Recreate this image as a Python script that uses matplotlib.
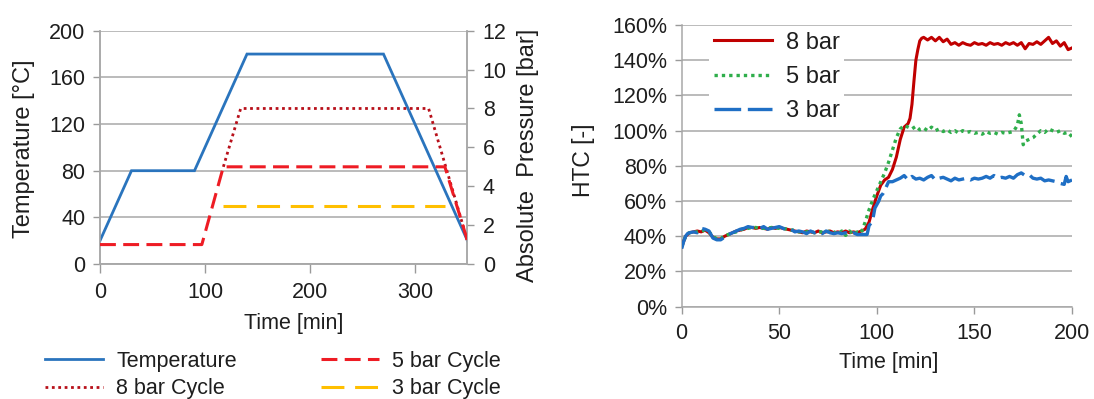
import matplotlib
matplotlib.use('Agg')
import matplotlib.pyplot as plt
from matplotlib.ticker import FuncFormatter

plt.rcParams['font.family'] = ['Liberation Sans', 'DejaVu Sans']
TXT = '#1e1e1e'
GRID = '#a8a8a8'
plt.rcParams['text.color'] = TXT
plt.rcParams['axes.labelcolor'] = TXT
plt.rcParams['xtick.color'] = '#9a9a9a'
plt.rcParams['ytick.color'] = '#9a9a9a'
plt.rcParams['xtick.labelcolor'] = TXT
plt.rcParams['ytick.labelcolor'] = TXT

# ---------------- left chart data ----------------
temp_t = [0, 30, 90, 140, 270, 350]
temp_v = [20, 80, 80, 180, 180, 20]
p8_t = [117.5, 134, 313, 350]
p8_v = [5, 8, 8, 1.2]
p5_t = [0, 97, 117.5, 328.5, 350]
p5_v = [1, 1, 5, 5, 1.2]
p3_t = [117.5, 329]
p3_v = [3, 3]
left_labels = ['Temperature', '8 bar Cycle', '5 bar Cycle', '3 bar Cycle']

# ---------------- right chart data ----------------
t8 = [0, 1, 2, 3, 4, 6, 8, 10, 12, 14, 16, 18, 20, 22, 24, 26, 28, 30, 32, 34,
      36, 38, 40, 42, 44, 46, 48, 50, 52, 54, 56, 58, 60, 62, 64, 66, 68, 70,
      72, 74, 76, 78, 80, 82, 84, 86, 88, 90, 92,
      94, 96, 98, 100, 102, 104, 106, 108, 110, 112, 114, 116,
      117, 118, 119, 120, 121, 122, 123, 124,
      126, 128, 130, 132, 134, 136, 138, 140, 142, 144, 146, 148, 150, 152,
      154, 156, 158, 160, 162, 164, 166, 168, 170, 172, 174, 176, 178, 180,
      182, 184, 186, 188, 190, 192, 194, 196, 198, 200]
v8 = [34, 37, 40, 41, 42, 42.5, 43, 42.5, 43.5, 42, 39.5, 38.5, 38.5, 40, 41,
      42, 43, 43.5, 44, 45, 45, 44.5, 45, 44.5, 44, 45, 44.5, 45, 44.5, 44,
      43.5, 43, 42.5, 42, 43, 42.5, 42, 43, 42, 42.5, 43, 42, 42.5, 42, 43, 42,
      42.5, 42, 43,
      44, 48, 56, 63, 69, 72, 73.5, 78, 85, 95, 102, 104,
      107, 115, 128, 140, 146, 151, 152.5, 153,
      151.5, 153, 151, 153, 150.5, 152, 149, 150, 148.5, 150, 149, 148.5, 150,
      149, 149.5, 148.5, 150, 149, 149.5, 148.5, 150, 149, 150, 148.5, 150,
      146.5, 149.5, 149, 150.5, 149, 151, 153, 149.5, 151, 148, 150, 146, 147]

t5 = [0, 1, 2, 3, 4, 6, 8, 10, 12, 14, 16, 18, 20, 22, 24, 26, 28, 30, 32, 34,
      36, 38, 40, 42, 44, 46, 48, 50, 52, 54, 56, 58, 60, 62, 64, 66, 68, 70,
      72, 74, 76, 78, 80, 82, 84, 86, 88, 90, 92,
      94, 96, 98, 100, 102, 104, 106, 108, 110, 112, 114, 116, 118, 120, 122,
      124, 126, 128, 130, 132, 134, 136, 138, 140, 142, 144, 146, 148, 150,
      152, 154, 156, 158, 160, 162, 164, 166, 168, 170,
      172, 173, 174, 175, 176,
      178, 180, 182, 184, 186, 188, 190, 192, 194, 196, 198, 200]
v5 = [34, 37, 40, 41.5, 42, 42.5, 42.5, 43, 43.5, 42.5, 40, 38.5, 38.5, 40.5,
      41, 42, 42.5, 43.5, 44.5, 44.5, 45, 45, 44.5, 44.5, 44.5, 45, 45, 44.5,
      44.5, 44, 43.5, 43.5, 42.5, 42.5, 42.5, 43, 42, 42.5, 42.5, 42.5, 43,
      42.5, 41, 43, 40.5, 43, 41, 42.5, 42,
      48, 55, 61, 66, 71, 76, 82, 89, 96, 101,
      103, 102, 101, 102.5, 100.5, 101.5, 100, 102, 100, 101,
      99.5, 100.5, 99, 100, 98.5, 100, 99, 99.5, 98.5, 99,
      98, 99.5, 98.5, 99, 98, 99, 98.5, 99, 99.5,
      103, 109, 104, 92, 94,
      95, 96, 98, 100, 99, 101, 100, 99, 100, 98.5, 99, 96.5]

t3 = [0, 1, 2, 3, 4, 6, 8, 10, 12, 14, 16, 18, 20, 22, 24, 26, 28, 30, 32, 34,
      36, 38, 40, 42, 44, 46, 48, 50, 52, 54, 56, 58, 60, 62, 64, 66, 68, 70,
      72, 74, 76, 78, 80, 82, 84, 86, 88, 90, 92,
      94, 95, 96, 97, 98, 99, 100, 101, 102, 103, 104,
      106, 108, 110, 112, 114, 116, 118, 120, 122, 124, 126, 128, 130, 132,
      134, 136, 138, 140, 142, 144, 146, 148, 150, 152, 154, 156, 158, 160,
      162, 164, 166, 168, 170, 172, 174, 176, 178, 180, 182, 184, 186, 188,
      190, 192, 194, 196,
      197, 198, 200]
v3 = [33, 37, 40, 41.5, 42, 42.5, 42, 44.5, 44, 43, 39, 38, 38, 39.5, 41,
      42, 43, 44, 44.5, 45.5, 45, 45, 44.5, 45.5, 44, 44.5, 45, 45.5, 44.5,
      43.5, 44, 42.5, 43, 42.5, 41.5, 43, 42, 42.5, 41.5, 43, 42, 41.5, 42,
      41.5, 42, 41, 42, 41, 41,
      41, 41, 46, 47.5, 50, 56, 58, 60, 63, 64, 66,
      71, 71, 72, 73, 74.5, 72, 74, 72.5, 73, 72,
      73.5, 74.5, 72, 73, 73.5, 72.5, 71.5, 73, 72, 72.5,
      73, 72, 73, 72.5, 73, 74, 73, 74.5, 73, 73.5,
      73, 74, 73, 75, 76, 74.5, 75, 73, 72.5, 73,
      71.5, 72, 71.5, 71, 70, 69.5,
      74, 71, 72]
right_labels = ['8 bar', '5 bar', '3 bar']

assert len(t8) == len(v8) and len(t5) == len(v5) and len(t3) == len(v3)

C_TEMP = '#2a74bd'
C_P8 = '#b8101a'
C_P5 = '#ee1c24'
C_P3 = '#ffbf00'
C_R8 = '#c00000'
C_R5 = '#2fae4b'
C_R3 = '#1f6fc5'

FS = 15.5
FS_Y = 17

fig = plt.figure(figsize=(10.94, 3.99), dpi=100)

# ---------------- left chart ----------------
ax = fig.add_axes([0.0914, 0.3383, 0.3359, 0.5847])
ax2 = ax.twinx()
l_t, = ax.plot(temp_t, temp_v, color=C_TEMP, lw=2.0, solid_joinstyle='miter', zorder=3)
l_8, = ax2.plot(p8_t, p8_v, color=C_P8, lw=2.0, linestyle=(0, (1, 1.3)), zorder=2)
l_5, = ax2.plot(p5_t, p5_v, color=C_P5, lw=2.2, linestyle=(0, (5.2, 2.4)), zorder=3)
l_3, = ax2.plot(p3_t, p3_v, color=C_P3, lw=2.2, linestyle=(0, (7.5, 3.5)), zorder=3)
ax.set_xlim(0, 350)
ax.set_ylim(0, 200)
ax2.set_ylim(0, 12)
ax.set_xticks([0, 100, 200, 300])
ax.set_yticks([0, 40, 80, 120, 160, 200])
ax2.set_yticks([0, 2, 4, 6, 8, 10, 12])
ax.grid(axis='y', color=GRID, lw=1.1)
ax.set_axisbelow(True)
ax.spines['top'].set_visible(False)
ax2.spines['top'].set_visible(False)
for a in (ax, ax2):
    for s in ['left', 'bottom', 'right']:
        a.spines[s].set_color(GRID)
        a.spines[s].set_linewidth(1.1)
ax.tick_params(axis='y', direction='out', length=5, width=1, pad=5.5, labelsize=FS)
ax.tick_params(axis='x', direction='out', length=6.5, width=1, pad=6.5, labelsize=FS)
ax2.tick_params(axis='y', direction='out', length=5, width=1, pad=6, labelsize=FS)
ax.set_xlabel('Time [min]', fontsize=FS)
ax.set_ylabel('Temperature [°C]', fontsize=FS_Y)
ax2.set_ylabel('Absolute  Pressure [bar]', fontsize=FS_Y)
ax.xaxis.set_label_coords(0.528, -0.21)
ax.yaxis.set_label_coords(-0.177, 0.496)
ax2.yaxis.set_label_coords(1.136, 0.467)

fig.legend([l_t, l_8, l_5, l_3], left_labels, ncol=2, loc='center',
           bbox_to_anchor=(273 / 1094, 0.0600), frameon=False, fontsize=FS,
           handlelength=2.7, handletextpad=0.6, columnspacing=3.9,
           labelspacing=0.3)

# ---------------- right chart ----------------
bx = fig.add_axes([0.6231, 0.2313, 0.3568, 0.7060])
r8, = bx.plot(t8, v8, color=C_R8, lw=2.2, zorder=3)
r5, = bx.plot(t5, v5, color=C_R5, lw=2.4, linestyle=(0, (1, 1.2)), zorder=4)
r3, = bx.plot(t3, v3, color=C_R3, lw=2.4, linestyle=(0, (8, 2)), zorder=5)
bx.set_xlim(0, 200)
bx.set_ylim(0, 160)
bx.set_xticks([0, 50, 100, 150, 200])
bx.set_yticks([0, 20, 40, 60, 80, 100, 120, 140, 160])
bx.yaxis.set_major_formatter(FuncFormatter(lambda v, p: f'{v:.0f}%'))
bx.grid(axis='y', color=GRID, lw=1.1)
bx.set_axisbelow(True)
for s in ['top', 'right']:
    bx.spines[s].set_visible(False)
for s in ['left', 'bottom']:
    bx.spines[s].set_color(GRID)
    bx.spines[s].set_linewidth(1.1)
bx.tick_params(axis='y', direction='out', length=5, width=1, pad=5.5, labelsize=FS)
bx.tick_params(axis='x', direction='out', length=5, width=1, pad=6.5, labelsize=FS)
bx.set_xlabel('Time [min]', fontsize=FS)
bx.set_ylabel('HTC [-]', fontsize=FS_Y - 0.5)
bx.xaxis.set_label_coords(0.531, -0.16)
bx.yaxis.set_label_coords(-0.222, 0.521)
leg = bx.legend([r8, r5, r3], right_labels, loc='upper left',
                bbox_to_anchor=(0.07, 0.993), borderaxespad=0, fontsize=17,
                handlelength=2.45, handletextpad=0.6, labelspacing=0.52,
                borderpad=0.2, frameon=True, fancybox=False)
leg.get_frame().set_facecolor('white')
leg.get_frame().set_edgecolor('none')
leg.get_frame().set_alpha(1)

fig.savefig('out.png', dpi=100)
